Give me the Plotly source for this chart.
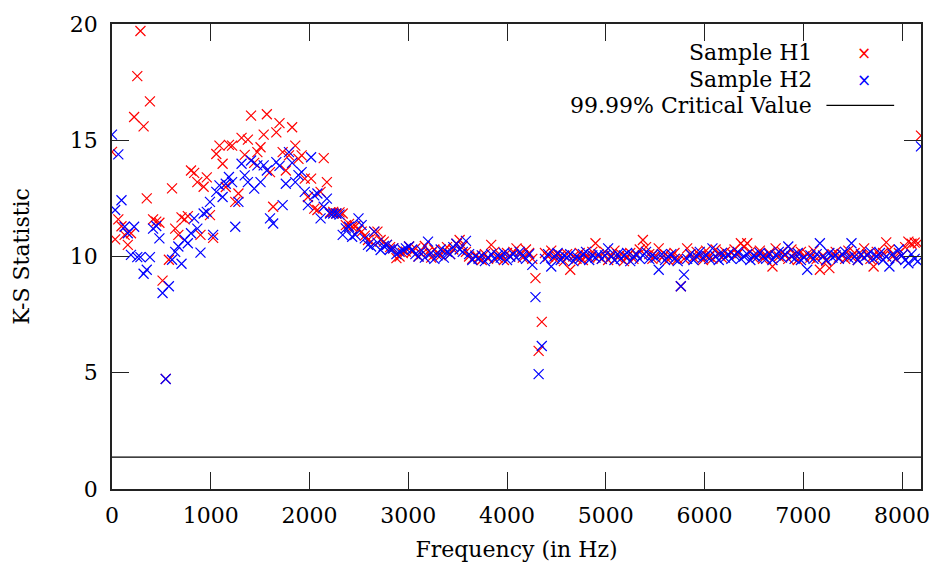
import plotly.graph_objects as go

# ---------------- data ----------------
FREQ_STEP_HZ = 32  # spacing of the frequency bins

# K-S statistic, sample H1 (one value per 32 Hz bin, 0 .. 8192 Hz)
h1_values = [
    14.5, 10.74, 11.6, 11.3, 10.93, 10.5, 11.0, 16.0, 17.76, 19.7, 15.6, 12.5, 16.67, 11.6, 11.5, 11.45,
    8.96, 4.74, 9.86, 12.93, 11.2, 10.93, 11.68, 11.6, 11.74, 13.7, 13.6, 13.2, 10.93, 13.0, 13.4, 11.78,
    10.8, 14.41, 14.77, 13.99, 12.99, 14.8, 14.77, 12.35, 12.71, 15.1, 14.37, 15.03, 16.06, 14.03, 14.49, 14.7,
    15.24, 16.12, 13.63, 12.14, 15.34, 15.74, 14.49, 13.7, 14.35, 15.56, 14.77, 14.2, 14.35, 13.35, 12.56, 13.35,
    12.06, 12.0, 12.78, 14.23, 13.2, 11.9, 11.92, 11.85, 11.9, 11.85, 11.35, 11.4, 11.28, 11.3, 11.15, 11.07,
    10.9, 10.71, 10.64, 11.07, 11.07, 10.71, 10.64, 10.5, 10.4, 10.35, 9.93, 10.0, 10.15, 10.21, 10.43, 10.2,
    10.35, 10.0, 10.1, 10.45, 10.2, 9.95, 10.3, 10.15, 10.05, 10.25, 10.4, 10.1, 10.3, 10.55, 10.71, 10.45,
    10.2, 10.0, 9.9, 10.05, 9.95, 9.85, 10.1, 9.9, 10.5, 10.2, 9.95, 10.05, 9.85, 10.15, 10.0, 10.2,
    10.35, 10.1, 9.95, 10.3, 10.15, 9.9, 9.07, 5.94, 7.19, 10.15, 10.0, 10.25, 9.9, 10.1, 10.05, 9.8,
    10.1, 9.43, 10.0, 9.9, 10.15, 9.85, 10.05, 9.95, 10.2, 10.57, 10.0, 9.9, 10.2, 9.85, 10.05, 10.25,
    9.95, 10.1, 9.8, 10.0, 10.15, 9.9, 10.05, 10.3, 10.71, 10.4, 10.1, 9.9, 10.05, 10.35, 9.95, 10.1,
    9.85, 10.0, 10.15, 9.9, 8.72, 9.9, 10.35, 10.1, 9.95, 10.2, 10.05, 9.85, 10.25, 10.0, 9.9, 10.3,
    10.1, 9.95, 10.2, 10.05, 10.15, 10.3, 10.1, 10.57, 10.4, 10.57, 10.2, 9.95, 10.1, 10.25, 9.9, 10.05,
    10.15, 9.57, 10.35, 10.0, 10.2, 10.05, 9.9, 10.3, 10.1, 9.85, 10.2, 10.0, 10.1, 9.95, 10.25, 9.9,
    9.43, 10.05, 9.8, 9.5, 10.1, 10.2, 9.95, 10.1, 9.9, 10.25, 10.0, 10.15, 9.85, 10.05, 10.35, 10.1,
    9.9, 9.57, 10.2, 10.0, 10.15, 10.61, 10.3, 10.0, 9.9, 10.15, 10.05, 10.4, 10.64, 10.55, 10.6, 10.57,
    15.2,
]

# K-S statistic, sample H2
h2_values = [
    15.24, 12.0, 14.39, 12.42, 11.28, 11.0, 10.07, 11.28, 9.97, 9.97, 9.26, 9.43, 9.97, 11.2, 11.31, 10.78,
    8.43, 4.73, 8.72, 9.86, 10.2, 10.43, 9.69, 10.71, 10.57, 11.0, 11.64, 11.2, 10.17, 11.85, 11.92, 12.35,
    10.93, 12.78, 13.06, 12.56, 13.13, 13.42, 13.2, 11.28, 12.35, 13.99, 13.49, 13.2, 14.13, 12.92, 13.92, 13.2,
    13.92, 13.7, 11.64, 11.42, 14.06, 13.9, 12.21, 13.13, 14.49, 14.03, 13.2, 13.5, 13.63, 12.78, 12.21, 14.27,
    12.63, 12.71, 11.64, 12.14, 12.49, 11.85, 11.85, 11.85, 11.8, 10.93, 11.21, 11.28, 10.85, 10.93, 11.64, 11.35,
    10.78, 10.5, 10.43, 11.07, 10.6, 10.28, 10.45, 10.5, 10.3, 10.35, 10.1, 10.2, 10.28, 10.35, 10.43, 10.3,
    10.1, 10.0, 10.25, 9.95, 10.64, 10.15, 9.9, 10.05, 10.3, 9.95, 10.2, 10.1, 10.4, 10.55, 10.3, 10.2,
    10.67, 10.1, 9.85, 10.0, 9.9, 10.05, 9.8, 9.95, 10.1, 9.9, 10.05, 9.95, 10.15, 9.85, 10.0, 10.1,
    9.95, 10.2, 10.05, 9.9, 10.1, 9.64, 8.25, 4.94, 6.15, 9.9, 10.1, 9.57, 10.0, 10.15, 9.85, 10.05,
    9.95, 10.1, 9.8, 10.0, 9.9, 10.1, 10.2, 9.85, 10.05, 9.95, 10.1, 9.9, 10.05, 10.35, 10.0, 9.85,
    10.1, 9.9, 10.05, 10.15, 9.8, 10.0, 10.1, 9.9, 10.05, 10.2, 9.9, 10.05, 9.95, 9.43, 10.1, 9.85,
    10.0, 10.1, 9.9, 9.8, 8.72, 9.22, 9.9, 10.1, 9.85, 10.0, 10.2, 9.95, 10.05, 9.9, 10.35, 10.0,
    9.85, 10.15, 9.95, 10.1, 9.9, 10.05, 10.2, 9.9, 10.0, 10.1, 9.85, 10.05, 9.95, 10.15, 10.0, 9.9,
    10.1, 9.85, 10.05, 10.2, 9.95, 10.1, 10.43, 10.0, 9.9, 10.15, 9.85, 9.95, 9.43, 10.05, 9.9, 10.1,
    10.57, 10.0, 9.85, 10.15, 9.95, 10.05, 9.9, 10.1, 10.2, 9.95, 10.57, 10.0, 9.85, 10.1, 9.95, 10.05,
    10.2, 9.9, 10.0, 10.15, 9.85, 10.0, 9.57, 10.1, 9.9, 10.3, 10.05, 9.85, 9.71, 10.1, 9.9, 9.79,
    14.74,
]

h1_freq = [i * FREQ_STEP_HZ for i in range(len(h1_values))]
h2_freq = [i * FREQ_STEP_HZ for i in range(len(h2_values))]

critical_value = 1.37
critical_x = [0, 8192]
critical_y = [critical_value, critical_value]

x_range = [0, 8192]
y_range = [0, 20]
x_ticks = [0, 1000, 2000, 3000, 4000, 5000, 6000, 7000, 8000]
y_ticks = [0, 5, 10, 15, 20]

series_names = ["Sample H1", "Sample H2", "99.99% Critical Value"]

# ---------------- figure ----------------
FONT = "DejaVu Serif"
FS = 22

fig = go.Figure()

fig.add_trace(go.Scatter(
    x=h1_freq, y=h1_values, mode="markers", name=series_names[0],
    marker=dict(symbol="x-thin", size=10, line=dict(color="#ff0000", width=1.2)),
    showlegend=False,
))
fig.add_trace(go.Scatter(
    x=h2_freq, y=h2_values, mode="markers", name=series_names[1],
    marker=dict(symbol="x-thin", size=10, line=dict(color="#0000ff", width=1.2)),
    showlegend=False,
))
fig.add_trace(go.Scatter(
    x=critical_x, y=critical_y, mode="lines", name=series_names[2],
    line=dict(color="black", width=1.2),
    showlegend=False,
))

axis_common = dict(
    showgrid=False, zeroline=False,
    showline=True, linecolor="#222", linewidth=1.5, mirror="ticks",
    ticks="inside", ticklen=17, tickwidth=1.2, tickcolor="#222",
    tickfont=dict(family=FONT, size=FS, color="black"),
)

fig.update_xaxes(
    range=x_range, tickvals=x_ticks, ticktext=[str(v) for v in x_ticks],
    title=dict(text="Frequency (in Hz)", font=dict(family=FONT, size=FS, color="black"), standoff=14),
    ticklabelstandoff=6,
    **axis_common,
)
fig.update_yaxes(
    range=y_range, tickvals=y_ticks, ticktext=[str(v) for v in y_ticks],
    title=dict(text="K-S Statistic", font=dict(family=FONT, size=FS, color="black"), standoff=34),
    ticklabelstandoff=8,
    **axis_common,
)

# gnuplot-style key: right-aligned labels with the sample to the right
legend_rows_y = [0.938, 0.880, 0.825]
text_x = 0.868
sample_x = 0.9295
annotations = []
for name, yy in zip(series_names, legend_rows_y):
    annotations.append(dict(
        xref="paper", yref="paper", x=text_x, y=yy, xanchor="right", yanchor="middle",
        text=name, showarrow=False, font=dict(family=FONT, size=FS, color="black"),
    ))
annotations.append(dict(xref="paper", yref="paper", x=sample_x, y=legend_rows_y[0],
                        xanchor="center", yanchor="middle", text="×", showarrow=False,
                        font=dict(family="DejaVu Sans", size=17, color="#ff0000")))
annotations.append(dict(xref="paper", yref="paper", x=sample_x, y=legend_rows_y[1],
                        xanchor="center", yanchor="middle", text="×", showarrow=False,
                        font=dict(family="DejaVu Sans", size=17, color="#0000ff")))

fig.update_layout(
    width=942, height=572,
    margin=dict(l=112, r=17, t=21, b=83),
    paper_bgcolor="white", plot_bgcolor="white",
    font=dict(family=FONT, size=FS, color="black"),
    annotations=annotations,
    shapes=[dict(type="line", xref="paper", yref="paper",
                 x0=0.8831, x1=0.9668, y0=legend_rows_y[2], y1=legend_rows_y[2],
                 line=dict(color="black", width=1.2))],
    showlegend=False,
)

fig.write_html("out.html")
